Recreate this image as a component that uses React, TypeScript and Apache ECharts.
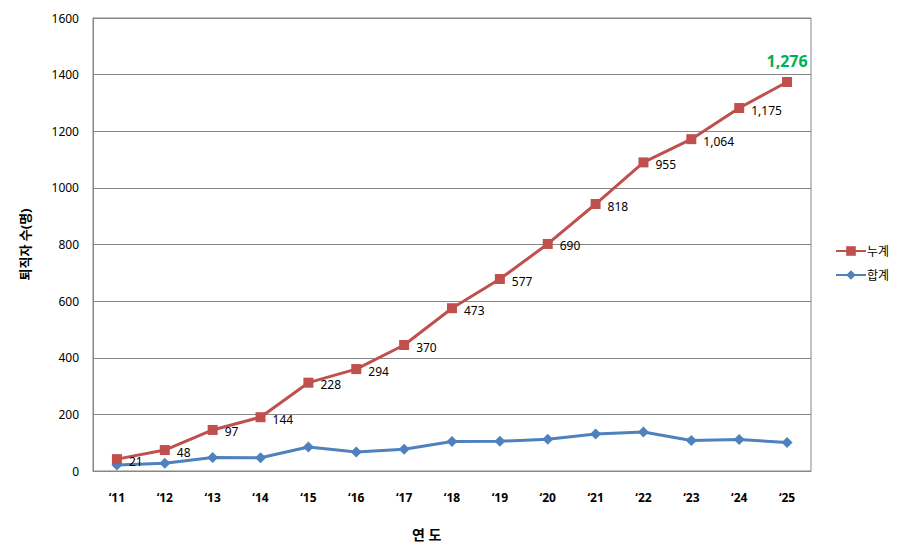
import React, { useEffect, useRef } from "react";
import * as echarts from "echarts";

const years = ["‘11", "‘12", "‘13", "‘14", "‘15", "‘16", "‘17", "‘18", "‘19", "‘20", "‘21", "‘22", "‘23", "‘24", "‘25"];
const cumulative = [42, 74, 145, 190, 312, 360, 445, 575, 678, 802, 943, 1090, 1172, 1282, 1374];
const cumulativeLabels = ["21", "48", "97", "144", "228", "294", "370", "473", "577", "690", "818", "955", "1,064", "1,175", "1,276"];
const total = [21, 27, 48, 47, 85, 67, 77, 104, 105, 112, 131, 138, 108, 111, 101];
const yTicks = { min: 0, max: 1600, interval: 200 };

const FONT = "'Noto Sans', 'Noto Sans CJK KR', sans-serif";

export default function App() {
  const ref = useRef<HTMLDivElement>(null);
  useEffect(() => {
    if (!ref.current) return;
    const chart = echarts.init(ref.current, undefined, { renderer: "svg" });
    const last = cumulative.length - 1;
    chart.setOption({
      animation: false,
      backgroundColor: "#fff",
      textStyle: { fontFamily: FONT },
      grid: {
        left: 93,
        top: 18,
        right: 90,
        bottom: 87,
        show: true,
        borderColor: "#868686",
        borderWidth: 1,
      },
      legend: {
        orient: "vertical",
        left: 830,
        top: 240,
        itemGap: 12,
        itemWidth: 30,
        itemHeight: 12,
        textStyle: { fontSize: 12, color: "#000", padding: [0, 0, 0, -4], fontFamily: FONT },
        data: ["누계", "합계"],
      },
      xAxis: {
        type: "category",
        data: years,
        boundaryGap: true,
        axisLine: { lineStyle: { color: "#868686" } },
        axisTick: { show: false },
        axisLabel: { color: "#000", fontWeight: "bold", fontSize: 12, margin: 20 },
      },
      yAxis: {
        type: "value",
        min: yTicks.min,
        max: yTicks.max,
        interval: yTicks.interval,
        name: "퇴직자 수(명)",
        nameLocation: "middle",
        nameGap: 62,
        nameRotate: 90,
        nameTextStyle: { color: "#000", fontWeight: "bold", fontSize: 13 },
        axisLine: { show: true, lineStyle: { color: "#868686" } },
        axisTick: { show: false },
        axisLabel: { color: "#000", fontSize: 12, margin: 14, formatter: (v: number) => String(v) },
        splitLine: { lineStyle: { color: "#868686" } },
      },
      graphic: [
        {
          type: "text",
          left: 412,
          top: 527,
          style: { text: "연 도", fontSize: 14, fontWeight: "bold", fill: "#000", fontFamily: FONT },
        },
      ],
      series: [
        {
          name: "누계",
          type: "line",
          data: cumulative.map((v, i) =>
            i === last
              ? {
                  value: v,
                  label: {
                    position: "top",
                    distance: 8,
                    offset: [0, 0],
                    color: "#00B050",
                    fontWeight: "bold",
                    fontSize: 16,
                  },
                }
              : v
          ),
          symbol: "rect",
          symbolSize: 10,
          lineStyle: { color: "#C0504D", width: 3 },
          itemStyle: { color: "#C0504D" },
          label: {
            show: true,
            position: "right",
            distance: 7,
            offset: [0, 2],
            color: "#000",
            fontSize: 12,
            formatter: (p: any) => cumulativeLabels[p.dataIndex],
          },
          z: 3,
        },
        {
          name: "합계",
          type: "line",
          data: total,
          symbol: "diamond",
          symbolSize: 11,
          lineStyle: { color: "#4F81BD", width: 3 },
          itemStyle: { color: "#4F81BD" },
          z: 2,
        },
      ],
    });
    return () => chart.dispose();
  }, []);
  return <div ref={ref} style={{ width: 901, height: 558, position: "absolute", left: 0, top: 0 }} />;
}
